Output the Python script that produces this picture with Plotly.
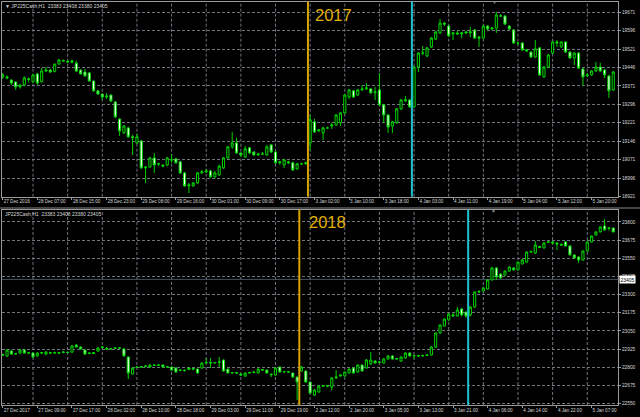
import plotly.graph_objects as go

# ---------------- data ----------------
top_open = [19408,19408,19395,19387,19367,19375,19400,19388,19420,19388,19432,19436,19430,19460,19474,19472,19467,19464,19436,19428,
            19424,19391,19351,19338,19326,19334,19306,19236,19180,19200,19164,19139,19147,19037,19041,19078,19053,19049,19049,19070,
            19074,19062,19017,18964,18964,18976,19017,19021,19025,19001,19009,19037,19078,19123,19139,19098,19082,19119,19102,19090,
            19094,19090,19131,19102,19058,19050,19062,19058,19033,19054,19054,19139,19225,19188,19180,19200,19208,19212,19221,19261,
            19326,19351,19334,19355,19359,19359,19343,19355,19294,19253,19208,19221,19278,19310,19314,19286,19448,19505,19493,19530,
            19562,19587,19627,19615,19583,19587,19583,19591,19587,19599,19570,19566,19615,19603,19607,19656,19656,19615,19599,19546,
            19546,19518,19509,19489,19526,19408,19448,19505,19550,19530,19550,19509,19485,19505,19440,19412,19416,19432,19448,19436,
            19412,19355]
top_high = [19424,19414,19398,19390,19380,19410,19405,19420,19424,19444,19448,19440,19462,19480,19479,19474,19478,19474,19438,19440,
            19428,19393,19353,19340,19342,19336,19310,19240,19212,19205,19172,19176,19151,19045,19082,19098,19058,19050,19082,19094,
            19078,19066,19021,18976,18980,19021,19029,19033,19029,19025,19050,19082,19127,19184,19160,19100,19127,19123,19106,19098,
            19102,19131,19135,19106,19066,19074,19066,19062,19058,19058,19062,19253,19237,19196,19205,19205,19221,19257,19265,19338,
            19359,19355,19359,19375,19383,19363,19367,19424,19298,19257,19229,19282,19318,19330,19318,19452,19509,19534,19530,19570,
            19595,19644,19631,19619,19591,19595,19591,19595,19611,19603,19575,19619,19619,19611,19672,19664,19660,19619,19603,19550,
            19550,19522,19513,19558,19530,19452,19501,19554,19558,19554,19554,19513,19509,19509,19444,19424,19436,19469,19465,19440,
            19416,19432]
top_low = [19400,19398,19375,19355,19360,19370,19385,19383,19375,19385,19428,19424,19426,19458,19470,19464,19465,19428,19418,19408,
           19388,19348,19334,19314,19318,19306,19240,19168,19176,19160,19090,19135,19033,18976,19037,19017,19045,19040,19045,19058,
           19054,19013,18960,18935,18960,18972,19013,19017,18997,18995,19005,19033,19074,19115,19094,19082,19078,19094,19086,19086,
           19090,19086,19098,19054,19050,19037,19054,19025,19029,19050,19050,19110,19180,19184,19151,19196,19196,19208,19208,19257,
           19318,19322,19330,19351,19355,19338,19314,19290,19220,19180,19180,19216,19273,19306,19282,19282,19428,19497,19489,19526,
           19558,19583,19615,19570,19558,19579,19566,19583,19570,19562,19530,19562,19599,19599,19587,19652,19619,19599,19542,19538,
           19514,19509,19485,19485,19412,19404,19444,19501,19530,19526,19505,19481,19456,19440,19371,19408,19412,19428,19428,19403,
           19322,19351]
top_close = [19416,19404,19383,19367,19375,19404,19398,19416,19383,19432,19436,19428,19460,19477,19473,19469,19474,19432,19420,19412,
             19391,19351,19338,19326,19330,19310,19245,19188,19208,19164,19160,19164,19037,19041,19078,19049,19054,19045,19078,19070,
             19058,19017,18964,18968,18976,19017,19021,19025,19001,19017,19045,19078,19123,19139,19098,19090,19115,19098,19090,19094,
             19094,19123,19102,19058,19062,19070,19058,19029,19054,19054,19058,19233,19184,19192,19200,19200,19212,19253,19261,19334,
             19355,19326,19355,19359,19363,19343,19347,19294,19253,19204,19225,19278,19314,19314,19286,19448,19505,19505,19526,19566,
             19591,19627,19623,19575,19587,19583,19587,19587,19591,19566,19566,19615,19603,19607,19660,19656,19623,19603,19546,19546,
             19518,19514,19489,19522,19416,19448,19497,19550,19546,19550,19509,19485,19505,19444,19408,19416,19432,19448,19432,19416,
             19351,19428]

bot_open = [22882,22878,22912,22891,22898,22919,22898,22898,22878,22898,22891,22901,22898,22901,22901,22905,22905,22953,22940,22919,
            22895,22895,22912,22936,22930,22926,22930,22933,22926,22871,22754,22799,22802,22805,22802,22816,22813,22816,22802,22802,
            22795,22778,22781,22785,22792,22788,22795,22830,22833,22830,22833,22850,22788,22761,22764,22754,22740,22761,22764,22761,
            22785,22781,22754,22747,22802,22768,22771,22761,22733,22775,22775,22699,22609,22630,22671,22674,22664,22727,22740,22740,
            22761,22795,22768,22816,22795,22823,22843,22833,22830,22857,22878,22857,22843,22864,22898,22878,22881,22878,22881,22885,
            22940,23036,23084,23126,23160,23153,23201,23180,23160,23215,23318,23325,23339,23401,23483,23442,23435,23462,23483,23470,
            23511,23524,23593,23586,23631,23621,23659,23662,23655,23645,23662,23635,23573,23559,23538,23600,23662,23710,23731,23772,
            23755,23758]
bot_high = [22895,22926,22919,22898,22926,22926,22905,22905,22905,22905,22912,22905,22908,22905,22912,22908,22954,22960,22945,22922,
            22902,22905,22940,22945,22940,22933,22938,22940,22933,22875,22799,22806,22809,22816,22820,22820,22823,22820,22809,22806,
            22799,22785,22785,22799,22795,22792,22833,22864,22864,22837,22871,22854,22792,22768,22768,22757,22764,22768,22771,22792,
            22788,22785,22757,22799,22806,22775,22775,22764,22737,22809,22778,22702,22650,22675,22678,22678,22730,22781,22754,22771,
            22792,22799,22820,22820,22857,22905,22850,22843,22864,22885,22885,22864,22875,22905,22905,22885,22885,22888,22891,22945,
            23040,23095,23136,23170,23175,23215,23210,23185,23220,23322,23330,23350,23405,23490,23490,23446,23466,23494,23490,23528,
            23545,23597,23600,23669,23635,23660,23669,23669,23659,23652,23669,23638,23576,23562,23604,23666,23707,23735,23769,23820,
            23765,23762]
bot_low = [22878,22871,22885,22885,22891,22895,22891,22864,22871,22891,22885,22895,22895,22891,22898,22898,22898,22936,22922,22888,
           22891,22891,22908,22930,22919,22922,22926,22929,22874,22720,22750,22795,22798,22802,22799,22809,22809,22799,22798,22778,
           22764,22774,22771,22781,22781,22757,22792,22826,22795,22826,22802,22771,22757,22757,22754,22740,22736,22757,22761,22757,
           22778,22757,22733,22743,22764,22764,22764,22730,22575,22771,22695,22619,22602,22626,22664,22664,22640,22720,22737,22736,
           22757,22757,22764,22771,22792,22816,22826,22830,22826,22854,22854,22850,22840,22860,22874,22860,22874,22874,22878,22881,
           22936,23030,23080,23120,23150,23150,23150,23140,23150,23210,23310,23320,23335,23397,23400,23410,23430,23458,23466,23466,
           23507,23518,23586,23580,23620,23617,23655,23648,23607,23635,23631,23569,23548,23518,23534,23596,23659,23707,23728,23741,
           23741,23728]
bot_close = [22888,22919,22891,22895,22919,22898,22901,22871,22898,22901,22905,22898,22901,22898,22905,22902,22947,22940,22926,22891,
             22898,22901,22933,22940,22926,22929,22933,22933,22878,22761,22795,22802,22805,22809,22816,22813,22816,22802,22805,22781,
             22768,22781,22778,22795,22788,22761,22830,22833,22830,22833,22837,22775,22761,22764,22761,22747,22761,22764,22768,22788,
             22781,22761,22750,22795,22768,22771,22768,22733,22699,22802,22699,22623,22644,22671,22674,22671,22727,22733,22747,22768,
             22788,22761,22816,22775,22850,22850,22830,22837,22857,22878,22857,22860,22871,22898,22878,22881,22878,22881,22885,22940,
             23036,23091,23132,23167,23153,23194,23160,23153,23215,23318,23322,23346,23401,23483,23421,23414,23462,23490,23470,23524,
             23538,23593,23597,23641,23624,23655,23662,23655,23648,23641,23635,23573,23552,23538,23600,23662,23703,23731,23765,23745,
             23758,23731]

top_tick_labels = ["27 Dec 2016","28 Dec 07:00","28 Dec 15:00","28 Dec 23:00","29 Dec 08:00","29 Dec 16:00",
                   "30 Dec 01:00","30 Dec 09:00","30 Dec 17:00","3 Jan 02:00","3 Jan 10:00","3 Jan 18:00",
                   "4 Jan 03:00","4 Jan 11:00","4 Jan 19:00","5 Jan 04:00","5 Jan 12:00","5 Jan 20:00"]
bot_tick_labels = ["27 Dec 2017","27 Dec 09:00","27 Dec 17:00","28 Dec 02:00","28 Dec 10:00","28 Dec 18:00",
                   "29 Dec 03:00","29 Dec 11:00","29 Dec 19:00","2 Jan 12:00","2 Jan 20:00","3 Jan 05:00",
                   "3 Jan 13:00","3 Jan 21:00","4 Jan 06:00","4 Jan 14:00","4 Jan 22:00","5 Jan 07:00"]
top_levels = [18921,18996,19071,19146,19221,19296,19371,19446,19521,19596,19671]
bot_levels = [22550,22675,22800,22925,23050,23175,23300,23425,23550,23675,23800]
bid_price = 23405
header_text = "JP225Cash,H1  23383 23408 23380 23405"
top_year_break, top_new_session = 70.5, 94.5
bot_year_break, bot_new_session = 68.5, 107.5

# ---------------- figure ----------------
W, H = 640, 417
def fy(p):
    return 1 - p / H

top_idx = list(range(len(top_close)))
bot_idx = list(range(len(bot_close)))
tick_pos = [8 * k for k in range(len(top_tick_labels))]

GREEN = "#00d400"
GRID = "#6f757c"
FRAME = "#9a9a9a"
TXT = "#d8d8d8"
FONT = "Liberation Sans"

inc = dict(line=dict(color=GREEN, width=1), fillcolor="#000000")
dec = dict(line=dict(color=GREEN, width=1), fillcolor="#ffffff")

fig = go.Figure()
fig.add_trace(go.Candlestick(x=top_idx, open=top_open, high=top_high, low=top_low, close=top_close,
                             increasing=inc, decreasing=dec, whiskerwidth=0, showlegend=False,
                             hoverinfo="skip", xaxis="x", yaxis="y"))
fig.add_trace(go.Candlestick(x=bot_idx, open=bot_open, high=bot_high, low=bot_low, close=bot_close,
                             increasing=inc, decreasing=dec, whiskerwidth=0, showlegend=False,
                             hoverinfo="skip", xaxis="x2", yaxis="y2"))

xr = [-0.16, 142.1]
xdom = [2 / W, 618 / W]
common_x = dict(range=xr, domain=xdom, tickvals=tick_pos, ticklabelposition="outside right",
                tickangle=0,
                tickfont=dict(size=4.6, color=TXT, family=FONT), ticks="outside", ticklen=2,
                tickcolor=FRAME, showgrid=False, zeroline=False, showline=True, linecolor=FRAME,
                linewidth=1, mirror=True, rangeslider=dict(visible=False), fixedrange=True,
                automargin=False)
common_y = dict(side="right", showgrid=True, gridcolor=GRID, griddash="3px,2px", gridwidth=1,
                tickformat="d",
                tickfont=dict(size=4.8, color=TXT, family=FONT), ticks="outside", ticklen=2,
                tickcolor=FRAME, zeroline=False, showline=True, linecolor=FRAME, linewidth=1,
                mirror=True, fixedrange=True, automargin=False)

fig.update_layout(
    width=W, height=H, margin=dict(l=0, r=0, t=0, b=0),
    paper_bgcolor="#000000", plot_bgcolor="#000000", template="none",
    hovermode=False, showlegend=False,
    xaxis=dict(anchor="y", ticktext=top_tick_labels, **common_x),
    xaxis2=dict(anchor="y2", ticktext=bot_tick_labels, **common_x),
    yaxis=dict(anchor="x", domain=[fy(196.7), fy(1.5)], range=[18920, 19715],
               tickvals=top_levels, **common_y),
    yaxis2=dict(anchor="x2", domain=[fy(405), fy(209.7)], range=[22541, 23884],
                tickvals=bot_levels, **common_y),
)

shapes = []
for xa, ya in (("x", "y"), ("x2", "y2")):
    for p in tick_pos[1:]:
        shapes.append(dict(type="line", xref=xa, yref=ya + " domain", x0=p - 1.0, x1=p - 1.0,
                           y0=0, y1=1, layer="below",
                           line=dict(color=GRID, width=1, dash="3px,2px")))
# bid line
shapes.append(dict(type="line", xref="x2 domain", yref="y2", x0=0, x1=1, y0=bid_price, y1=bid_price,
                   line=dict(color="#4a5563", width=1), layer="below"))
# separators / markers
for xa, ya, xb, xn in (("x", "y", top_year_break, top_new_session),
                       ("x2", "y2", bot_year_break, bot_new_session)):
    shapes.append(dict(type="line", xref=xa, yref=ya + " domain", x0=xb, x1=xb, y0=0, y1=1,
                       line=dict(color="#d8a200", width=2)))
    shapes.append(dict(type="line", xref=xa, yref=ya + " domain", x0=xn, x1=xn, y0=0, y1=1,
                       line=dict(color="#1fc4d4", width=2)))
shapes.append(dict(type="line", xref="paper", yref="paper", x0=0, x1=1, y0=fy(208), y1=fy(208),
                   line=dict(color="#8a8a8a", width=1)))
fig.update_layout(shapes=shapes)

ann = [
    dict(xref="x", yref="paper", x=top_year_break + 1.1, y=fy(15), text="2017", showarrow=False,
         xanchor="left", yanchor="middle", font=dict(size=16.5, color="#e0b000", family=FONT)),
    dict(xref="x2", yref="paper", x=bot_year_break + 1.8, y=fy(222), text="2018", showarrow=False,
         xanchor="left", yanchor="middle", font=dict(size=16.5, color="#e0b000", family=FONT)),
    dict(xref="paper", yref="paper", x=3 / W, y=fy(5.5), text="▼ " + header_text, showarrow=False,
         xanchor="left", yanchor="middle", font=dict(size=5, color=TXT, family=FONT)),
    dict(xref="paper", yref="paper", x=3 / W, y=fy(213.5), text=header_text, showarrow=False,
         xanchor="left", yanchor="middle", font=dict(size=5, color=TXT, family=FONT)),
    dict(xref="paper", yref="y2", x=619 / W, y=bid_price, text=str(bid_price), showarrow=False,
         xanchor="left", yanchor="middle", bgcolor="#ffffff", borderpad=0.5,
         font=dict(size=5, color="#000000", family=FONT)),
    dict(xref="paper", yref="paper", x=494 / W, y=fy(2.5), text="▼", showarrow=False,
         xanchor="center", yanchor="middle", font=dict(size=5, color="#8a8a8a", family=FONT)),
    dict(xref="paper", yref="paper", x=493 / W, y=fy(211.5), text="▼", showarrow=False,
         xanchor="center", yanchor="middle", font=dict(size=5, color="#8a8a8a", family=FONT)),
]
fig.update_layout(annotations=ann)

fig.write_html("out.html", config={"displayModeBar": False},
               post_script="document.body.style.margin='0';document.body.style.overflow='hidden';")
